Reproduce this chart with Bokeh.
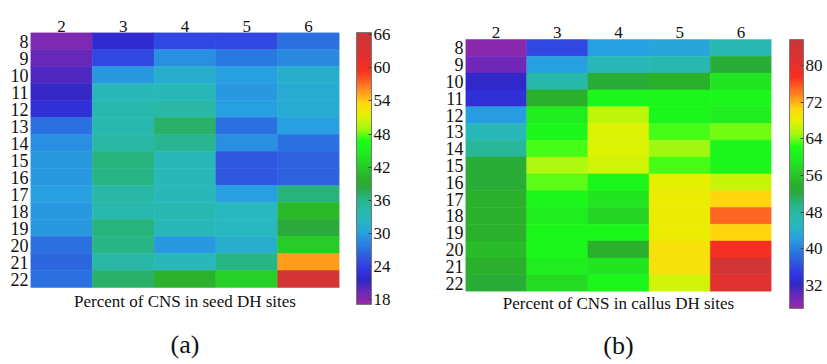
import numpy as np
from bokeh.plotting import figure
from bokeh.models import (ColumnDataSource, LinearColorMapper, ColorBar, FixedTicker,
                          FactorRange, Range1d, Title)
from bokeh.layouts import row
from bokeh.embed import file_html
from bokeh.resources import INLINE

# ---------------- data ----------------
columns = ["2", "3", "4", "5", "6"]
rows = [str(r) for r in range(8, 23)]

seed_values = [
    [18.5, 22.0, 24.5, 24.5, 27.0],   # 8
    [19.5, 24.5, 29.0, 27.5, 28.5],   # 9
    [20.5, 29.5, 31.5, 30.0, 31.5],   # 10
    [21.5, 33.0, 33.0, 29.5, 31.0],   # 11
    [22.5, 34.0, 34.5, 30.0, 31.0],   # 12
    [27.0, 34.0, 37.0, 27.0, 30.0],   # 13
    [29.0, 34.5, 35.5, 29.0, 27.0],   # 14
    [29.5, 36.5, 33.0, 25.5, 26.0],   # 15
    [29.5, 36.0, 33.0, 25.5, 26.0],   # 16
    [30.0, 34.5, 33.0, 30.0, 36.5],   # 17
    [29.5, 34.0, 33.5, 32.5, 40.5],   # 18
    [29.5, 36.5, 33.0, 32.5, 38.5],   # 19
    [27.0, 36.0, 29.5, 31.5, 42.0],   # 20
    [26.5, 34.5, 33.0, 36.0, 55.5],   # 21
    [27.0, 37.0, 40.0, 42.5, 64.5],   # 22
]

callus_values = [
    [28.0, 35.8, 42.3, 43.0, 46.5],   # 8
    [29.5, 42.3, 46.0, 46.5, 52.8],   # 9
    [32.3, 47.5, 52.8, 54.0, 59.0],   # 10
    [33.5, 54.0, 61.0, 61.0, 61.0],   # 11
    [42.0, 60.0, 66.0, 61.0, 60.0],   # 12
    [46.0, 61.0, 67.5, 63.0, 64.0],   # 13
    [48.5, 63.0, 67.5, 65.0, 61.0],   # 14
    [53.0, 65.5, 67.0, 63.0, 61.0],   # 15
    [53.0, 63.5, 61.0, 68.0, 66.5],   # 16
    [54.0, 61.0, 59.0, 68.5, 70.5],   # 17
    [54.0, 60.0, 57.5, 68.5, 75.0],   # 18
    [54.0, 61.0, 61.0, 68.5, 70.5],   # 19
    [55.0, 61.0, 54.0, 69.5, 78.0],   # 20
    [54.0, 60.0, 59.0, 69.5, 83.5],   # 21
    [53.0, 58.0, 61.0, 67.0, 81.0],   # 22
]

seed_ticks = [18, 24, 30, 36, 42, 48, 54, 60, 66]
callus_ticks = [32, 40, 48, 56, 64, 72, 80]
seed_title = "Percent of CNS in seed DH sites"
callus_title = "Percent of CNS in callus DH sites"

# ---------------- colormap ----------------
anchors = [
    (0.00, "#9a2aa8"), (0.04, "#7028b8"), (0.09, "#3028c8"), (0.13, "#3038e6"),
    (0.16, "#3050e0"), (0.21, "#2a78e0"), (0.26, "#28a0e0"), (0.31, "#28b8c0"),
    (0.35, "#28b8a8"), (0.39, "#28b480"), (0.43, "#2aaa40"), (0.46, "#2ab02a"),
    (0.50, "#28c828"), (0.55, "#20e820"), (0.60, "#18ff18"), (0.65, "#a8f810"),
    (0.70, "#e8f000"), (0.74, "#ffd810"), (0.80, "#ff8020"), (0.86, "#f83020"),
    (0.92, "#e03030"), (1.00, "#c83838"),
]


def build_palette(n=256):
    ts = np.array([a[0] for a in anchors])
    rgb = np.array([[int(c[1:3], 16), int(c[3:5], 16), int(c[5:7], 16)] for _, c in anchors])
    out = []
    for t in np.linspace(0, 1, n):
        r, g, b = (int(round(np.interp(t, ts, rgb[:, k]))) for k in range(3))
        out.append("#%02x%02x%02x" % (r, g, b))
    return out


palette = build_palette()
FONT = '"Liberation Serif"'
INK = "#111111"
N = len(rows)
row_pos = {r: N - 1 - i for i, r in enumerate(rows)}   # top row highest


def make_panel(values, low, high, ticks, title, letter, fw, pad_bottom_px, pad_top_px,
               content_h, bl, br, col_standoff, cb_height, cb_width, cb_loc,
               letter_offset, title_standoff, letter_standoff):
    xs, ys, vs = [], [], []
    for i, r in enumerate(rows):
        for j, c in enumerate(columns):
            xs.append(c)
            ys.append(row_pos[r])
            vs.append(values[i][j])
    src = ColumnDataSource(dict(x=xs, y=ys, v=vs))
    mapper = LinearColorMapper(palette=palette, low=low, high=high)

    unit = content_h / N
    y_range = Range1d(-0.5 - pad_bottom_px / unit, N - 0.5 + pad_top_px / unit)
    p = figure(title=None, frame_width=fw, frame_height=259,
               x_range=FactorRange(*columns), y_range=y_range,
               x_axis_location="above",
               output_backend="svg", toolbar_location=None,
               min_border_left=bl, min_border_right=br, min_border_top=32,
               min_border_bottom=73)
    p.rect(x="x", y="y", width=1, height=1, source=src,
           fill_color={"field": "v", "transform": mapper},
           line_color={"field": "v", "transform": mapper}, line_width=0.5)
    p.outline_line_color = None
    p.grid.visible = False
    p.yaxis.ticker = FixedTicker(ticks=[row_pos[r] for r in rows])
    p.yaxis.major_label_overrides = {row_pos[r]: r for r in rows}
    for ax in (p.xaxis[0], p.yaxis[0]):
        ax.axis_line_color = None
        ax.major_tick_line_color = None
        ax.minor_tick_line_color = None
        ax.major_tick_out = 0
        ax.major_tick_in = 0
        ax.major_label_text_font = FONT
        ax.major_label_text_color = INK
    p.xaxis.major_label_text_font_size = "17px"
    p.xaxis.major_label_standoff = col_standoff
    p.yaxis.major_label_text_font_size = "18px"
    p.yaxis.major_label_standoff = 2

    p.add_layout(Title(text=title, align="center", standoff=title_standoff,
                       text_font=FONT, text_font_size="17px",
                       text_font_style="normal", text_color=INK), "below")
    p.add_layout(Title(text=letter, align="center", offset=letter_offset,
                       standoff=letter_standoff, text_font=FONT,
                       text_font_size="26px", text_font_style="normal",
                       text_color=INK), "below")

    cb = ColorBar(color_mapper=mapper, ticker=FixedTicker(ticks=ticks),
                  width=cb_width, height=cb_height, location=cb_loc,
                  margin=0, padding=0,
                  major_label_text_font=FONT, major_label_text_font_size="17px",
                  major_label_text_color=INK,
                  major_tick_line_color="#444444", major_tick_in=3, major_tick_out=0,
                  bar_line_color="#777777", border_line_color=None,
                  background_fill_color=None, label_standoff=2)
    p.add_layout(cb, "right")
    return p


pa = make_panel(seed_values, 17.1, 66.4, seed_ticks, seed_title, "(a)",
                309, 4, 0, 255, 30, 81, 1, 272, 15, (17, -13), 17, -4, 38)
pb = make_panel(callus_values, 27.0, 85.7, callus_ticks, callus_title, "(b)",
                306, 0, 7, 252, 45, 56, -5, 269, 14, (18, -17), 18, 1, 31)

layout = row(pa, pb)
open("out.html", "w").write(file_html(layout, INLINE))
